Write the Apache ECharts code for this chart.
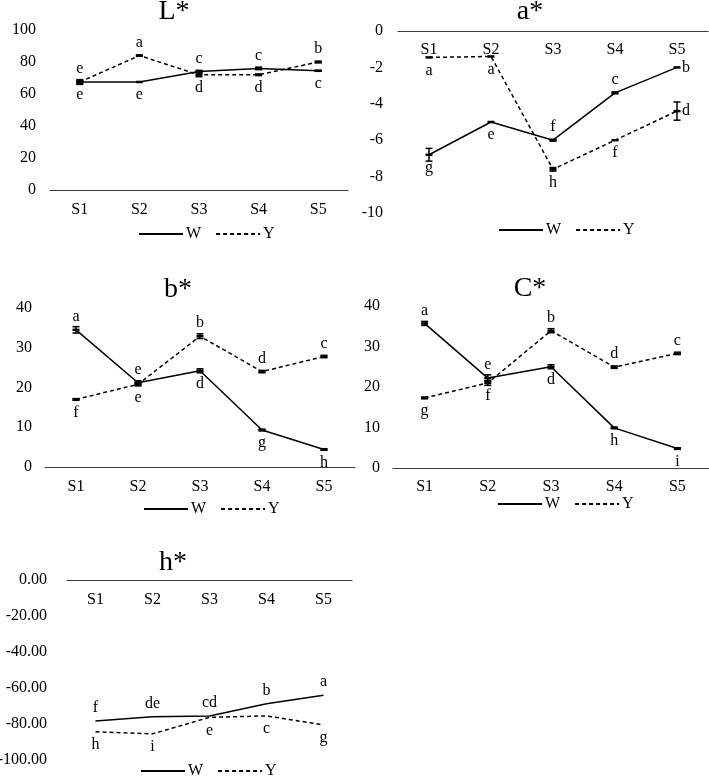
<!DOCTYPE html>
<html><head><meta charset="utf-8">
<script src="https://cdn.jsdelivr.net/npm/echarts@6/dist/echarts.min.js"></script>
<style>html,body{margin:0;padding:0;background:#fff}#c{width:709px;height:779px}</style>
</head><body><div id="c"></div>
<script>
const categories = ['S1','S2','S3','S4','S5'];
const seriesNames = ['W','Y'];
const titles = ['L*','a*','b*','C*','h*'];

// L*
const L_W = [67.5, 67.5, 74, 76, 74.5];
const L_Y = [67.5, 84, 72, 72, 80];
const L_W_err = [1.5, 0, 0.8, 0.8, 0.3];
const L_Y_err = [1, 0.4, 1.2, 0.5, 0.5];
const L_W_lab = ['e','e','c','c','c'];
const L_Y_lab = ['e','a','d','d','b'];
const L_W_pos = ['bottom','bottom','top','top','bottom'];
const L_Y_pos = ['top','top','bottom','bottom','top'];
const L_ticks = [0, 100, 20];

// a*
const a_W = [-6.8, -5.0, -6.0, -3.4, -2.0];
const a_Y = [-1.45, -1.4, -7.6, -6.0, -4.4];
const a_W_err = [0.35, 0, 0.05, 0.05, 0];
const a_Y_err = [0, 0, 0.1, 0, 0.5];
const a_W_lab = ['g','e','f','c','b'];
const a_Y_lab = ['a','a','h','f','d'];
const a_W_pos = ['bottom','bottom','top','top','right'];
const a_Y_pos = ['bottom','bottom','bottom','bottom','right'];
const a_ticks = [-10, 0, 2];

// b*
const b_W = [34.5, 21.2, 24.2, 9.3, 4.4];
const b_Y = [17, 20.8, 32.9, 24, 27.8];
const b_W_err = [0.8, 0.5, 0.5, 0.2, 0.2];
const b_Y_err = [0.2, 0.4, 0.6, 0.3, 0.3];
const b_W_lab = ['a','e','d','g','h'];
const b_Y_lab = ['f','e','b','d','c'];
const b_W_pos = ['top','top','bottom','bottom','bottom'];
const b_Y_pos = ['bottom','bottom','top','top','top'];
const b_ticks = [0, 40, 10];

// C*
const C_W = [35.7, 22.2, 25, 9.9, 4.8];
const C_Y = [17.3, 21, 33.9, 24.9, 28.3];
const C_W_err = [0.5, 0.8, 0.5, 0.2, 0.2];
const C_Y_err = [0.2, 0.6, 0.5, 0.3, 0.3];
const C_W_lab = ['a','e','d','h','i'];
const C_Y_lab = ['g','f','b','d','c'];
const C_W_pos = ['top','top','bottom','bottom','bottom'];
const C_Y_pos = ['bottom','bottom','top','top','top'];
const C_ticks = [0, 40, 10];

// h*
const h_W = [-78.3, -76, -75.5, -68.8, -64];
const h_Y = [-84.3, -85.5, -76.3, -75.5, -80.5];
const h_W_lab = ['f','de','cd','b','a'];
const h_Y_lab = ['h','i','e','c','g'];
const h_W_pos = ['top','top','top','top','top'];
const h_Y_pos = ['bottom','bottom','bottom','bottom','bottom'];
const h_ticks = [-100, 0, 20];

const panels = [
  {W:L_W, Y:L_Y, We:L_W_err, Ye:L_Y_err, Wl:L_W_lab, Yl:L_Y_lab, Wp:L_W_pos, Yp:L_Y_pos, t:L_ticks, dec:0, top:false,
   grid:{left:50, top:30, width:298, height:160}, ym:14, xm:12, title:[174,12], legend:[138,226]},
  {W:a_W, Y:a_Y, We:a_W_err, Ye:a_Y_err, Wl:a_W_lab, Yl:a_Y_lab, Wp:a_W_pos, Yp:a_Y_pos, t:a_ticks, dec:0, top:true,
   grid:{left:398, top:31, width:310, height:182}, ym:15, xm:11, title:[530,12], legend:[498,222]},
  {W:b_W, Y:b_Y, We:b_W_err, Ye:b_Y_err, Wl:b_W_lab, Yl:b_Y_lab, Wp:b_W_pos, Yp:b_Y_pos, t:b_ticks, dec:0, top:false,
   grid:{left:45, top:308, width:310, height:159}, ym:13, xm:12, title:[178,290], legend:[143,501]},
  {W:C_W, Y:C_Y, We:C_W_err, Ye:C_Y_err, Wl:C_W_lab, Yl:C_Y_lab, Wp:C_W_pos, Yp:C_Y_pos, t:C_ticks, dec:0, top:false,
   grid:{left:393, top:306, width:316, height:162}, ym:13, xm:11, title:[530,289], legend:[497,496]},
  {W:h_W, Y:h_Y, We:null, Ye:null, Wl:h_W_lab, Yl:h_Y_lab, Wp:h_W_pos, Yp:h_Y_pos, t:h_ticks, dec:2, top:true,
   grid:{left:67, top:580, width:285, height:180}, ym:20, xm:12, title:[173,563], legend:[140,763]}
];

const FONT = '"Liberation Serif", "Times New Roman", serif';
const grids = [], xAxes = [], yAxes = [], series = [], legends = [], graphics = [];

function errRender(params, api) {
  const i = api.value(0), v = api.value(1), e = api.value(2);
  const p = api.coord([i, v]);
  const children = [{type:'rect', shape:{x:p[0]-3.5, y:p[1]-1.25, width:7, height:2.5}, style:{fill:'#000'}}];
  if (e > 0) {
    const hi = api.coord([i, v + e]), lo = api.coord([i, v - e]);
    children.push({type:'line', shape:{x1:p[0], y1:hi[1], x2:p[0], y2:lo[1]}, style:{stroke:'#000', lineWidth:1.5}});
    children.push({type:'line', shape:{x1:p[0]-3.5, y1:hi[1], x2:p[0]+3.5, y2:hi[1]}, style:{stroke:'#000', lineWidth:1.5}});
    children.push({type:'line', shape:{x1:p[0]-3.5, y1:lo[1], x2:p[0]+3.5, y2:lo[1]}, style:{stroke:'#000', lineWidth:1.5}});
  }
  return {type:'group', children};
}

panels.forEach((P, k) => {
  grids.push(Object.assign({containLabel:false, outerBoundsMode:'none'}, P.grid));
  xAxes.push({type:'category', gridIndex:k, data:categories, boundaryGap:true,
    position: P.top ? 'top' : 'bottom',
    axisLine:{show:true, onZero:false, lineStyle:{color:'#3a3a3a', width:1.2}},
    axisTick:{show:false}, splitLine:{show:false},
    axisLabel:{color:'#000', fontFamily:FONT, fontSize:16, margin:P.xm, inside:P.top}});
  yAxes.push({type:'value', gridIndex:k, min:P.t[0], max:P.t[1], interval:P.t[2],
    axisLine:{show:false}, axisTick:{show:false}, splitLine:{show:false},
    axisLabel:{color:'#000', fontFamily:FONT, fontSize:16, margin:P.ym,
      formatter: v => v.toFixed(P.dec)}});
  [['W', P.W, P.Wl, P.Wp, P.We, 'solid'], ['Y', P.Y, P.Yl, P.Yp, P.Ye, [4,3]]].forEach(([name, vals, labs, pos, errs, ls]) => {
    series.push({type:'line', name, xAxisIndex:k, yAxisIndex:k,
      symbol:'circle', symbolSize:0, showSymbol:true, silent:true,
      itemStyle:{color:'#000'},
      lineStyle:{color:'#000', width:1.5, type:ls},
      label:{show:true, color:'#000', fontFamily:FONT, fontSize:16, distance:5,
        formatter: p => labs[p.dataIndex]},
      data: vals.map((v, i) => ({value:v, label:{position:pos[i]}})),
      z:3});
    if (errs) {
      series.push({type:'custom', name: name + '_err', xAxisIndex:k, yAxisIndex:k, silent:true,
        renderItem: errRender, data: vals.map((v, i) => [i, v, errs[i]]), z:4});
    }
  });
  legends.push({data:seriesNames, left:P.legend[0], top:P.legend[1], orient:'horizontal', padding:0,
    itemWidth:44, itemHeight:14, itemGap:14, selectedMode:false,
    itemStyle:{opacity:0},
    textStyle:{color:'#000', fontFamily:FONT, fontSize:16, padding:[0,0,0,-2]}});
  graphics.push({type:'text', x:P.title[0], y:P.title[1],
    style:{text:titles[k], textAlign:'center', textVerticalAlign:'middle', fill:'#000', font:'28px ' + FONT}});
});

const chart = echarts.init(document.getElementById('c'), null, {renderer:'canvas'});
chart.setOption({
  animation:false,
  backgroundColor:'#fff',
  grid:grids, xAxis:xAxes, yAxis:yAxes, series, legend:legends, graphic:graphics
});
</script>
</body></html>
